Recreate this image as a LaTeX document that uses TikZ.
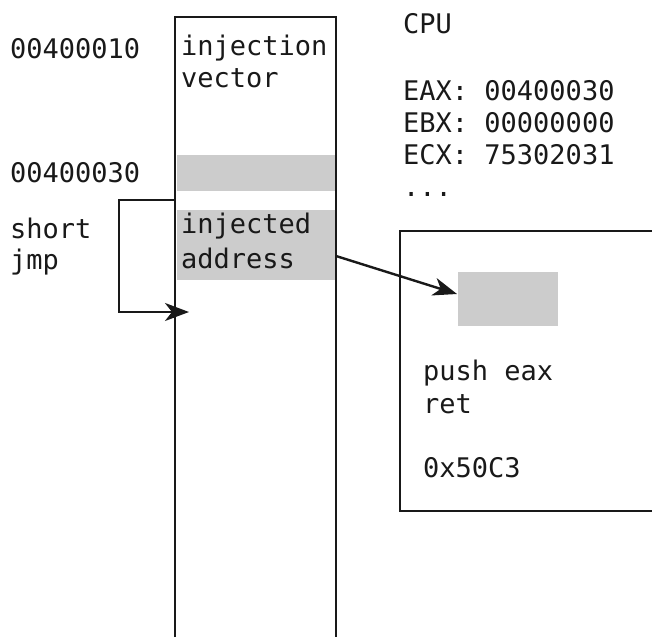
\documentclass[tikz,border=0pt]{standalone}
\usepackage{fontspec}
\setmonofont{DejaVu Sans Mono}
\usetikzlibrary{arrows.meta}
\begin{document}
\begin{tikzpicture}[x=1pt,y=-1pt,
  line/.style={draw=black!90,line width=2.4pt},
  lbl/.style={anchor=base west,inner sep=0pt,font=\ttfamily\fontsize{27}{32}\selectfont,text=black!90},
  band/.style={fill=black!20,draw=none},
  arr/.style={line,-{Stealth[length=24pt,width=18pt,inset=7pt]}}]
\useasboundingbox (0,0) rectangle (652,637);
% memory column
\draw[line] (175,637) -- (175,17) -- (336,17) -- (336,637);
\fill[band] (176.5,155) rectangle (334.5,191);
\node[band,minimum width=158pt,minimum height=70pt,inner sep=0pt] (injaddr) at (255.5,245) {};
% labels
\node[lbl] (a10) at (10,58) {00400010};
\node[lbl] (a30) at (10,182) {00400030};
\node[lbl] (sh) at (10,238) {short};
\node[lbl] (jm) at (10,269) {jmp};
\node[lbl] (inj1) at (181,55) {injection};
\node[lbl] (inj2) at (181,87) {vector};
\node[lbl] (ia1) at (181,233) {injected};
\node[lbl] (ia2) at (181,268) {address};
% CPU
\node[lbl] (cpu) at (403,33) {CPU};
\node[lbl] (eax) at (403,100) {EAX: 00400030};
\node[lbl] (ebx) at (403,132) {EBX: 00000000};
\node[lbl] (ecx) at (403,164) {ECX: 75302031};
\node[lbl] (dots) at (403,196) {...};
% CPU box
\draw[line] (655,231) -- (400,231) -- (400,511) -- (655,511);
\node[band,minimum width=100pt,minimum height=54pt,inner sep=0pt,anchor=north west] (target) at (458,272) {};
\node[lbl] (p1) at (423,380) {push eax};
\node[lbl] (p2) at (423,413) {ret};
\node[lbl] (p3) at (423,477) {0x50C3};
% arrows
\coordinate (s1) at (336,256);
\coordinate (t1) at (457,294);
\draw[arr] (s1) -- (t1);
\coordinate (j0) at (175,200);
\coordinate (j1) at (119,200);
\coordinate (j3) at (189,312);
\draw[arr] (j0) -- (j1) |- (j3);
\end{tikzpicture}
\end{document}
